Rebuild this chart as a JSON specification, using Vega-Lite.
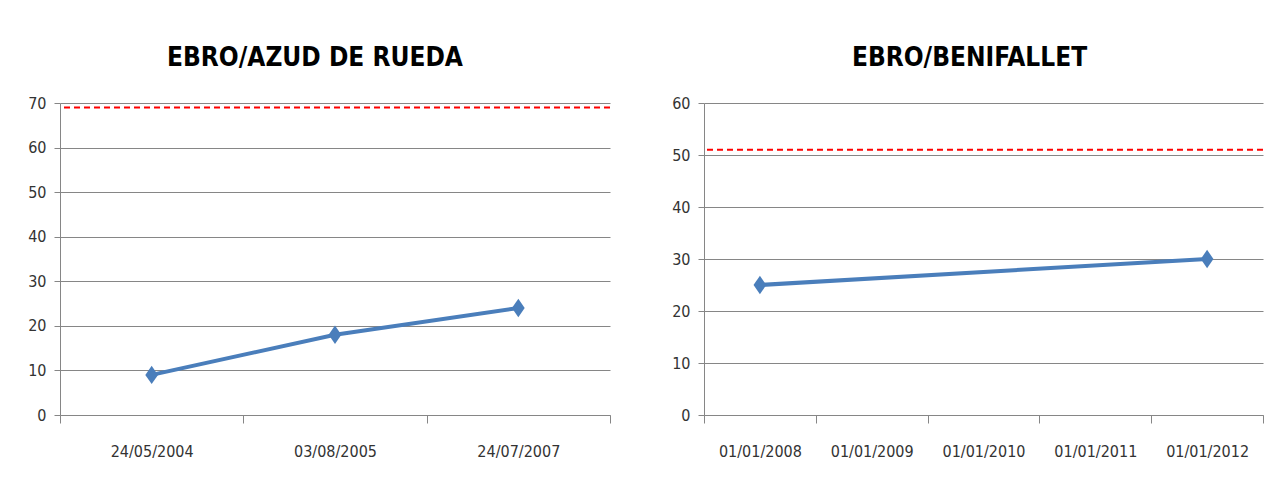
{
  "$schema": "https://vega.github.io/schema/vega-lite/v6.json",
  "background": "white",
  "padding": {"left": 8, "top": 45, "right": 5, "bottom": 5},
  "spacing": 41,
  "config": {
    "view": {"stroke": null},
    "font": "DejaVu Sans Condensed, Roboto, sans-serif",
    "axis": {
      "labelFont": "DejaVu Sans Condensed, Roboto, sans-serif",
      "labelFontSize": 16,
      "labelColor": "#333333",
      "domainColor": "#868686",
      "tickColor": "#868686",
      "gridColor": "#868686",
      "gridOpacity": 1,
      "title": null
    },
    "axisX": {"grid": false, "tickBand": "extent", "tickSize": 8, "labelPadding": 20, "labelAngle": 0},
    "axisY": {"grid": true, "tickSize": 6, "labelPadding": 8, "minExtent": 52, "maxExtent": 52},
    "title": {"font": "DejaVu Sans Condensed, Roboto, sans-serif", "fontWeight": "bold", "fontSize": 26, "color": "#000000", "anchor": "middle", "baseline": "alphabetic", "offset": 24}
  },
  "hconcat": [
    {
      "width": 550,
      "height": 312,
      "title": {"text": "EBRO/AZUD DE RUEDA", "dx": -20},
      "layer": [
        {
          "data": {"values": [
            {"fecha": "24/05/2004", "valor": 9},
            {"fecha": "03/08/2005", "valor": 18},
            {"fecha": "24/07/2007", "valor": 24}
          ]},
          "mark": {"type": "line", "color": "#4A7EBB", "strokeWidth": 4,
                   "point": {"shape": "M0,-1.3L0.9,0L0,1.3L-0.9,0Z", "size": 200, "filled": true, "color": "#4A7EBB"}},
          "encoding": {
            "x": {"field": "fecha", "type": "ordinal", "sort": null, "bandPosition": 0.5,
                  "scale": {"type": "band", "domain": ["24/05/2004", "03/08/2005", "24/07/2007"], "paddingInner": 0, "paddingOuter": 0}},
            "y": {"field": "valor", "type": "quantitative",
                  "scale": {"domain": [0, 70], "nice": false},
                  "axis": {"values": [0, 10, 20, 30, 40, 50, 60, 70]}}
          }
        },
        {
          "data": {"values": [{"limite": 69}]},
          "mark": {"type": "rule", "color": "#FF0000", "strokeWidth": 2, "strokeDash": [6, 4]},
          "encoding": {"y": {"field": "limite", "type": "quantitative"}}
        }
      ]
    },
    {
      "width": 559,
      "height": 312,
      "title": {"text": "EBRO/BENIFALLET", "dx": -14},
      "layer": [
        {
          "data": {"values": [
            {"fecha": "01/01/2008", "valor": 25},
            {"fecha": "01/01/2012", "valor": 30}
          ]},
          "mark": {"type": "line", "color": "#4A7EBB", "strokeWidth": 4,
                   "point": {"shape": "M0,-1.3L0.9,0L0,1.3L-0.9,0Z", "size": 200, "filled": true, "color": "#4A7EBB"}},
          "encoding": {
            "x": {"field": "fecha", "type": "ordinal", "sort": null, "bandPosition": 0.5,
                  "scale": {"type": "band", "domain": ["01/01/2008", "01/01/2009", "01/01/2010", "01/01/2011", "01/01/2012"], "paddingInner": 0, "paddingOuter": 0}},
            "y": {"field": "valor", "type": "quantitative",
                  "scale": {"domain": [0, 60], "nice": false},
                  "axis": {"values": [0, 10, 20, 30, 40, 50, 60]}}
          }
        },
        {
          "data": {"values": [{"limite": 51}]},
          "mark": {"type": "rule", "color": "#FF0000", "strokeWidth": 2, "strokeDash": [6, 4]},
          "encoding": {"y": {"field": "limite", "type": "quantitative"}}
        }
      ]
    }
  ]
}
